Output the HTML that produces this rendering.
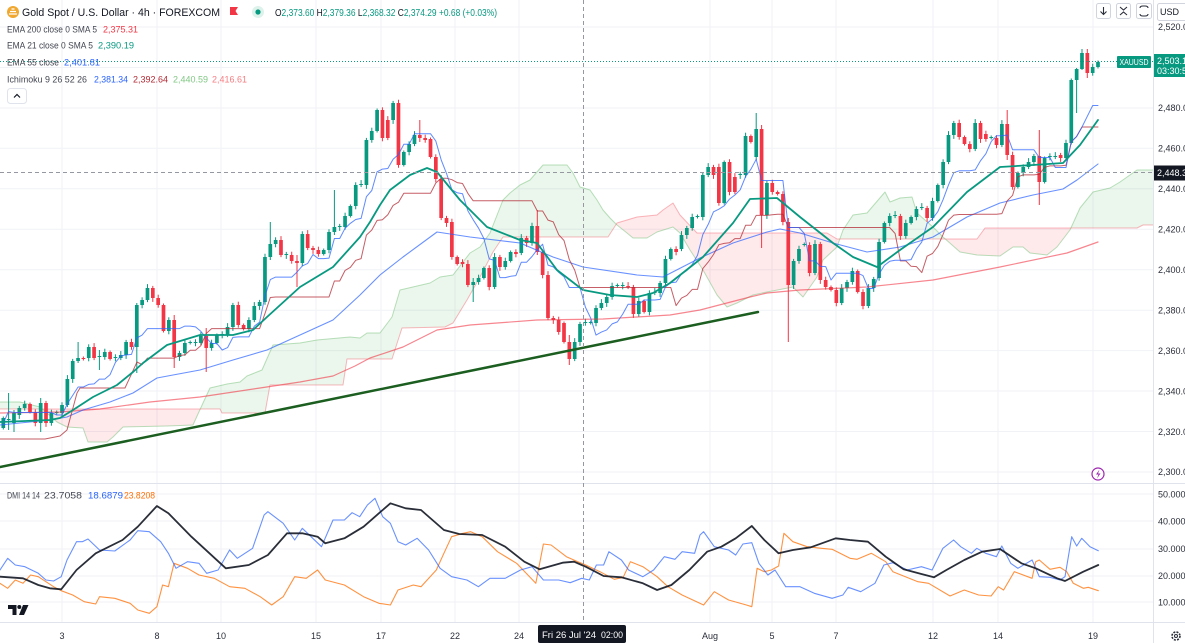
<!DOCTYPE html>
<html><head><meta charset="utf-8">
<style>
html,body{margin:0;padding:0;background:#fff;width:1185px;height:643px;overflow:hidden}
svg{display:block}
text{font-family:"Liberation Sans",sans-serif}
</style></head><body>
<svg id="svg" width="1185" height="643" viewBox="0 0 1185 643" xmlns="http://www.w3.org/2000/svg">
<defs id="defs">
<clipPath id="mainclip"><rect x="0" y="0" width="1153" height="483"/></clipPath>
<clipPath id="dmiclip"><rect x="0" y="484" width="1153" height="138"/></clipPath>
</defs>
<rect x="0" y="0" width="1185" height="643" fill="#fff"/>
<g id="grid" stroke="#f0f2f6" stroke-width="1"></g>
<g id="cloud" clip-path="url(#mainclip)"></g>
<g id="candles" clip-path="url(#mainclip)"></g>
<g id="lines" clip-path="url(#mainclip)"></g>
<g id="dmi" clip-path="url(#dmiclip)"></g>
<!-- separators -->
<line x1="0" y1="483.5" x2="1185" y2="483.5" stroke="#e0e3eb" stroke-width="1"/>
<line x1="0" y1="622.5" x2="1185" y2="622.5" stroke="#e0e3eb" stroke-width="1"/>
<line x1="1153.5" y1="0" x2="1153.5" y2="643" stroke="#e0e3eb" stroke-width="1"/>
<!-- trend line -->
<line x1="0" y1="467" x2="758" y2="312" stroke="#1b5e20" stroke-width="2.5" stroke-linecap="round"/>
<!-- dashed lines -->
<line x1="0" y1="172.5" x2="1153" y2="172.5" stroke="#9598a1" stroke-width="1" stroke-dasharray="4,3"/>
<line x1="583.5" y1="0" x2="583.5" y2="622" stroke="#9598a1" stroke-width="1" stroke-dasharray="4,3"/>
<line x1="0" y1="61.5" x2="1153" y2="61.5" stroke="#089981" stroke-width="1" stroke-dasharray="1,2"/>

<!-- price axis labels -->
<g font-size="9" fill="#2a2e39">
<text x="1158" y="30">2,520.00</text>
<text x="1158" y="111">2,480.00</text>
<text x="1158" y="151.5">2,460.00</text>
<text x="1158" y="192">2,440.00</text>
<text x="1158" y="232.5">2,420.00</text>
<text x="1158" y="273">2,400.00</text>
<text x="1158" y="313.5">2,380.00</text>
<text x="1158" y="354">2,360.00</text>
<text x="1158" y="394.5">2,340.00</text>
<text x="1158" y="435">2,320.00</text>
<text x="1158" y="475">2,300.00</text>
<text x="1158" y="497.5">50.0000</text>
<text x="1158" y="524.5">40.0000</text>
<text x="1158" y="552">30.0000</text>
<text x="1158" y="579">20.0000</text>
<text x="1158" y="605.5">10.0000</text>
</g>
<!-- price box -->
<rect x="1154" y="54" width="32" height="23" fill="#089981"/>
<text x="1157" y="64" font-size="9" fill="#fff">2,503.19</text>
<text x="1157" y="74" font-size="9" fill="#fff">03:30:51</text>
<rect x="1117" y="56" width="34" height="12" rx="1" fill="#089981"/>
<text x="1119.5" y="65" font-size="8.5" fill="#fff" textLength="29" lengthAdjust="spacingAndGlyphs">XAUUSD</text>
<rect x="1154" y="165.5" width="32" height="15" fill="#131722"/>
<text x="1157" y="176" font-size="9" fill="#fff">2,448.30</text>

<!-- top right buttons -->
<g fill="#fff" stroke="#d1d4dc" stroke-width="1">
<rect x="1096.5" y="3.5" width="14" height="15" rx="2"/>
<rect x="1116.5" y="3.5" width="14" height="15" rx="2"/>
<rect x="1136.5" y="3.5" width="15" height="15" rx="2"/>
<rect x="1157.5" y="3.5" width="30" height="17" rx="2"/>
</g>
<g stroke="#2a2e39" stroke-width="1.1" fill="none">
<path d="M1103.5,7 v7 M1100.5,11.5 l3,3 l3,-3"/>
<path d="M1120,7 l3.5,3 l3.5,-3 M1120,15 l3.5,-3 l3.5,3"/>
<path d="M1140,8 q0,-2 3,-2 h2 q3,0 3,2 M1140,14 q0,2 3,2 h2 q3,0 3,-2"/>
</g>
<text x="1160" y="15" font-size="9" fill="#131722">USD</text>

<!-- lightning -->
<circle cx="1098" cy="474" r="6" fill="#fff" stroke="#9c27b0" stroke-width="1.2"/>
<path d="M1099.5,469.5 l-3.5,5 h2.5 l-1.5,4 l3.5,-5 h-2.5 z" fill="#9c27b0"/>

<!-- legend -->
<circle cx="13" cy="12" r="6" fill="#f0a830"/>
<path d="M9,14 h8 M10,11.5 h6 M11.5,9 h3" stroke="#fff" stroke-width="1.3"/>
<text x="22" y="16" font-size="11" fill="#131722" textLength="198" lengthAdjust="spacingAndGlyphs">Gold Spot / U.S. Dollar · 4h · FOREXCOM</text>
<path d="M230,7 h8 l-2.5,4 l2.5,4 h-8 z" fill="#f23645"/>
<circle cx="258" cy="12" r="6" fill="#dcf2ea"/>
<circle cx="258" cy="12" r="2.6" fill="#089981"/>
<text x="275" y="16" font-size="10.5" textLength="222" lengthAdjust="spacingAndGlyphs"><tspan fill="#131722">O</tspan><tspan fill="#089981">2,373.60 </tspan><tspan fill="#131722">H</tspan><tspan fill="#089981">2,379.36 </tspan><tspan fill="#131722">L</tspan><tspan fill="#089981">2,368.32 </tspan><tspan fill="#131722">C</tspan><tspan fill="#089981">2,374.29 +0.68 (+0.03%)</tspan></text>

<g font-size="9.5">
<text x="7" y="32.5" fill="#434651" textLength="90" lengthAdjust="spacingAndGlyphs">EMA 200 close 0 SMA 5</text>
<text x="103" y="32.5" fill="#f23645" textLength="35" lengthAdjust="spacingAndGlyphs">2,375.31</text>
<text x="7" y="48.5" fill="#434651" textLength="86" lengthAdjust="spacingAndGlyphs">EMA 21 close 0 SMA 5</text>
<text x="98" y="48.5" fill="#089981" textLength="36" lengthAdjust="spacingAndGlyphs">2,390.19</text>
<text x="7" y="65.5" fill="#434651" textLength="52" lengthAdjust="spacingAndGlyphs">EMA 55 close</text>
<text x="64" y="65.5" fill="#2962ff" textLength="36" lengthAdjust="spacingAndGlyphs">2,401.81</text>
<text x="7" y="82.5" fill="#434651" textLength="80" lengthAdjust="spacingAndGlyphs">Ichimoku 9 26 52 26</text>
<text x="94" y="82.5" fill="#2962ff" textLength="34" lengthAdjust="spacingAndGlyphs">2,381.34</text>
<text x="133" y="82.5" fill="#b22833" textLength="35" lengthAdjust="spacingAndGlyphs">2,392.64</text>
<text x="173" y="82.5" fill="#81c784" textLength="35" lengthAdjust="spacingAndGlyphs">2,440.59</text>
<text x="212" y="82.5" fill="#f77c80" textLength="35" lengthAdjust="spacingAndGlyphs">2,416.61</text>
<text x="7" y="498.5" fill="#434651" textLength="33" lengthAdjust="spacingAndGlyphs">DMI 14 14</text>
<text x="44" y="498.5" fill="#434651" textLength="38" lengthAdjust="spacingAndGlyphs">23.7058</text>
<text x="88" y="498.5" fill="#2962ff" textLength="35" lengthAdjust="spacingAndGlyphs">18.6879</text>
<text x="124" y="498.5" fill="#ff6d00" textLength="31" lengthAdjust="spacingAndGlyphs">23.8208</text>
</g>
<rect x="7.5" y="88.5" width="19" height="15" rx="3" fill="#fff" stroke="#e0e3eb"/>
<path d="M14,97.5 l3,-3 l3,3" stroke="#131722" stroke-width="1.2" fill="none"/>

<!-- TV logo -->
<path d="M8,605 h8.5 v10 h-4 v-6 h-4.5 z" fill="#131722"/>
<circle cx="19.3" cy="607" r="2" fill="#131722"/>
<path d="M23,605 h5.5 l-4.5,10 h-5 z" fill="#131722"/>

<!-- time axis -->
<g font-size="9" fill="#2a2e39" text-anchor="middle">
<text x="62" y="639">3</text>
<text x="157" y="639">8</text>
<text x="221" y="639">10</text>
<text x="316" y="639">15</text>
<text x="381" y="639">17</text>
<text x="455" y="639">22</text>
<text x="519" y="639">24</text>
<text x="710" y="639">Aug</text>
<text x="772" y="639">5</text>
<text x="836" y="639">7</text>
<text x="933" y="639">12</text>
<text x="998" y="639">14</text>
<text x="1093" y="639">19</text>
</g>
<rect x="538" y="625" width="88" height="18" rx="2" fill="#131722"/>
<text x="542" y="638" font-size="9" fill="#fff" textLength="54" lengthAdjust="spacingAndGlyphs">Fri 26 Jul '24</text>
<text x="601" y="638" font-size="9" fill="#fff" textLength="22" lengthAdjust="spacingAndGlyphs">02:00</text>
<!-- gear -->
<circle cx="1176" cy="636" r="4" fill="none" stroke="#2a2e39" stroke-width="1.6" stroke-dasharray="2,1.2"/>
<circle cx="1176" cy="636" r="1.5" fill="none" stroke="#2a2e39" stroke-width="1"/>
</svg>
<script>
(function(){
const NS='http://www.w3.org/2000/svg';
function mk(tag,at,par){const e=document.createElementNS(NS,tag);for(const k in at)e.setAttribute(k,at[k]);par.appendChild(e);return e;}
const G=id=>document.getElementById(id);
const P=a=>a.map(p=>(+p[0]).toFixed(1)+','+(+p[1]).toFixed(1)).join(' ');
function line(par,pts,col,w,op){mk('polyline',{points:P(pts),fill:'none',stroke:col,'stroke-width':w,'stroke-opacity':op||1,'stroke-linejoin':'round','stroke-linecap':'round'},par);}

// grid
const grid=G('grid');
[27,67.5,108,148.3,188.8,229.2,269.7,310.2,350.6,391,431.5,472].forEach(y=>mk('line',{x1:0,y1:y,x2:1153,y2:y},grid));
[494,521,549,576,602].forEach(y=>mk('line',{x1:0,y1:y,x2:1153,y2:y},grid));
[62,157,221,316,381,455,519,710,772,836,933,998,1093].forEach(x=>mk('line',{x1:x,y1:0,x2:x,y2:622},grid));

// cloud
const A=[[0,402],[20,402],[40,407],[57,422],[67,427],[83,428],[88,442],[107,442],[113,437],[123,427],[167,426],[193,425],[203,403],[210,388],[227,384],[240,382],[247,376],[262,370],[273,345],[300,343],[317,340],[350,337],[360,338],[367,333],[380,333],[392,317],[400,290],[430,283],[440,277],[453,275],[470,253],[480,247],[490,233],[503,200],[510,193],[520,185],[530,180],[543,165],[567,165],[573,173],[580,187],[590,190],[597,200],[603,210],[610,218],[617,225],[627,233],[633,238],[647,238],[657,232],[673,227],[680,233],[690,250],[703,270],[717,295],[727,307],[737,303],[753,295],[767,292],[793,287],[803,297],[817,277],[823,260],[837,247],[843,230],[853,215],[867,213],[885,192],[890,202],[900,198],[912,197],[917,213],[933,227],[943,237],[960,252],[977,255],[1000,256],[1013,247],[1023,247],[1030,253],[1047,255],[1057,247],[1070,230],[1080,208],[1093,192],[1110,188],[1120,182],[1137,170],[1153,170]];
const B=[[0,409],[220,409],[222,413],[265,413],[270,385],[343,385],[347,359],[392,359],[402,328],[445,327],[453,323],[467,300],[480,277],[493,252],[503,237],[608,237],[617,223],[637,217],[657,215],[663,210],[673,203],[680,215],[697,233],[827,233],[837,239],[977,239],[985,228],[1137,228],[1143,225],[1153,225]];
const defs=G('defs');
const cpA=mk('clipPath',{id:'aboveA'},defs);mk('path',{d:'M0,0 L'+P(A)+' L1153,0 Z'},cpA);
const cpB=mk('clipPath',{id:'aboveB'},defs);mk('path',{d:'M0,0 L'+P(B)+' L1153,0 Z'},cpB);
const cl=G('cloud');
const gA=mk('g',{'clip-path':'url(#aboveB)'},cl);
mk('path',{d:'M0,483 L'+P(A)+' L1153,483 Z',fill:'#4caf50','fill-opacity':0.11},gA);
const gB=mk('g',{'clip-path':'url(#aboveA)'},cl);
mk('path',{d:'M0,483 L'+P(B)+' L1153,483 Z',fill:'#f23645','fill-opacity':0.11},gB);
line(cl,A,'#66bb6a',1,0.45);
line(cl,B,'#f23645',1,0.35);

// candles [open, close, high?, low?] in screen y
const C=[[428,418],[420,419,393,430],[423,413,410,432],[415,408],[408,404],[404,412],[412,423],[423,403,398,432],[403,423],[423,413],
[413,412],[413,405],[405,379],[379,361],[361,358,342,363],[358,359],[358,347],[347,358],[357,356,350,370],[357,352],
[352,359],[358,357],[358,355],[355,342],[342,347],[347,305,303,373],[305,300],[300,288],[288,298],[298,305],
[305,331],[331,320],[320,357,315,368],[357,353],[353,343],[343,342],[343,342],[343,336],[336,348,328,372],[348,343],
[343,335],[335,334],[335,327],[327,305],[305,325],[325,329],[329,320],[320,306],[306,302],[302,257],
[257,244,222,260],[244,240],[240,255],[255,254],[255,261],[261,263,255,287],[263,234],[234,248],[248,250],[250,254],
[254,250],[250,232],[232,227,190,235],[227,226],[227,216],[216,206],[206,185],[185,184],[185,140],[140,131],
[131,110],[110,138],[120,138],[120,103],[103,165],[165,152],[152,144],[144,135],[135,138,120,142],[138,140],
[139,157],[157,179],[179,218],[218,223],[222,257],[257,264],[262,264],[264,285],[285,282,278,302],[282,278],
[278,268],[268,287],[287,257],[257,267],[267,261],[261,252],[252,254],[253,238],[238,243],[243,226],
[226,252,210,255],[252,275],[275,318],[318,320],[320,332],[323,342],[342,359,335,365],[359,342],[342,324],[323,322],
[323,322],[323,308],[308,303],[303,297],[297,286],[286,285],[286,285],[286,287],[287,314],[314,301],
[301,312],[312,293],[293,292],[293,283],[283,259],[259,249],[249,252],[249,235],[235,228],[228,217],
[217,216],[217,175],[175,167],[167,175],[167,203],[203,162],[162,192],[177,192],[175,174],[175,136],
[136,142],[157,129,113,160],[129,215,125,248],[215,183],[183,192],[192,194],[194,222],[222,285,218,342],[285,261],[261,249],
[245,244],[245,273],[273,244],[244,280],[280,287],[287,290],[290,303],[303,288],[288,282],[282,271],
[271,292],[292,306],[306,288],[288,279],[278,242],[242,223],[223,216],[216,215],[216,236],[236,223],
[223,217],[217,209],[208,207],[208,218],[218,201],[201,185],[185,162],[162,135],[135,123],[123,137],
[137,144],[144,149],[149,123],[123,139],[134,139],[138,137],[138,145],[145,124],[124,155,110,160],[155,187],
[187,173],[173,167],[167,162],[162,156],[156,182,130,205],[182,158],[157,156],[157,156],[155,158],[158,143],
[143,80],[80,69,68,113],[69,53,49,70],[53,73,49,78],[73,67],[67,62]];
const N=C.length,X0=3.3,DX=(1098-3.3)/(N-1);
const cx=i=>X0+i*DX;
const H=[],L=[];
C.forEach((c,i)=>{const t=Math.min(c[0],c[1]),b=Math.max(c[0],c[1]);
H.push(c.length>2?Math.min(c[2],t):t-1.5-((i*37)%5)*0.6);
L.push(c.length>3?Math.max(c[3],b):b+1.5+((i*53)%5)*0.6);});
const cg=G('candles');
C.forEach((c,i)=>{const x=cx(i);const up=c[1]<=c[0];const col=up?'#089981':'#f23645';
const t=Math.min(c[0],c[1]),b=Math.max(c[0],c[1]);
mk('line',{x1:x.toFixed(1),y1:H[i],x2:x.toFixed(1),y2:L[i],stroke:col,'stroke-width':1},cg);
mk('rect',{x:(x-1.85).toFixed(2),y:t,width:3.7,height:Math.max(1,b-t),fill:col},cg);});

// ichimoku tenkan/kijun
function mid(i,n){let h=1e9,l=-1e9;for(let j=Math.max(0,i-n+1);j<=i;j++){h=Math.min(h,H[j]);l=Math.max(l,L[j]);}return (h+l)/2;}
const ten=C.map((c,i)=>[cx(i),mid(i,9)]);
const kij=[[0,439],[45,439],[60,436],[67,430],[77,393],[80,388],[125,388],[137,362]];
for(let i=26;i<N;i++)kij.push([cx(i),mid(i,26)]);

const lg=G('lines');
const E200=[[0,413],[60,412],[100,409],[150,402],[200,397],[260,388],[300,382],[333,376],[355,366],[370,358],[403,347],[437,330],[470,325],[537,320],[603,319],[670,315],[700,310],[750,297],[767,293],[800,290],[867,287],[933,280],[1000,267],[1067,253],[1098,242]];
const E55=[[0,425],[50,420],[67,417],[83,410],[110,402],[133,393],[157,378],[173,375],[200,370],[233,360],[267,350],[300,335],[333,320],[360,295],[380,275],[403,257],[437,232],[470,237],[520,243],[553,257],[583,267],[637,275],[663,277],[700,258],[733,243],[767,232],[780,229],[800,233],[833,243],[867,252],[900,247],[933,237],[967,217],[1000,203],[1033,195],[1063,189],[1077,180],[1098,164]];
const E21=[[0,422],[50,420],[60,418],[73,410],[93,397],[117,385],[133,372],[143,363],[167,345],[200,335],[233,335],[253,330],[267,317],[300,287],[333,267],[360,237],[370,222],[380,205],[390,190],[410,175],[427,168],[437,172],[460,200],[487,227],[520,240],[537,243],[557,270],[583,290],[610,295],[637,297],[653,293],[670,283],[703,257],[733,223],[750,199],[777,198],[800,217],[833,243],[853,257],[877,267],[900,250],[933,227],[967,192],[1000,167],[1033,165],[1063,163],[1080,145],[1098,120]];
line(lg,E200,'#f23645',1.2,0.6);
line(lg,E55,'#2962ff',1.1,0.7);
line(lg,kij,'#b22833',1,0.75);
line(lg,ten,'#2962ff',1,0.75);
line(lg,E21,'#089981',1.8,1);

// DMI
const z3=a=>a.map(p=>[p[0]/2.613,470+p[1]/3]);
const z6=a=>a.map(p=>[500+p[0]/2.8,470+p[1]/3]);
const z5=a=>a.map(p=>[1040+p[0]/3,470+p[1]/3]);
const adx=z3([[0,320],[60,325],[100,345],[130,355],[160,358],[200,300],[250,250],[320,210],[360,170],[410,108],[440,130],[500,200],[590,295],[650,285],[700,255],[750,190],[790,190],[830,200],[850,220],[900,205],[950,170],[1000,120],[1020,100],[1060,115],[1100,120],[1160,180],[1200,192],[1260,195],[1320,230],[1370,275],[1410,298],[1470,278],[1500,275],[1520,285]])
.concat(z6([[240,290],[290,318],[340,322],[400,340],[440,360],[480,345],[530,300],[580,245],[620,230],[660,205],[705,168],[740,210],[780,250],[820,240],[870,232],[940,205],[980,210],[1030,215],[1080,260],[1130,298],[1180,312],[1215,322],[1250,300],[1300,270],[1350,245],[1400,237],[1460,280],[1500,295],[1560,325]]))
.concat(z5([[75,333],[130,305],[175,285]]));
const pdi=z3([[0,300],[20,265],[40,285],[65,290],[100,310],[120,330],[140,333],[160,320],[175,270],[200,215],[215,215],[230,207],[260,240],[300,243],[340,210],[360,182],[390,185],[420,215],[440,250],[460,295],[490,275],[520,280],[540,310],[570,300],[600,240],[620,265],[660,235],[690,135],[700,125],[740,160],[770,210],[790,175],[840,230],[870,150],[900,150],[920,128],[940,140],[960,105],[980,85],[1000,140],[1020,160],[1040,215],[1060,225],[1090,205],[1120,240],[1150,295],[1180,320],[1220,330],[1250,350],[1280,325],[1320,325],[1360,300],[1390,290],[1420,330],[1460,330],[1490,338],[1520,325]])
.concat(z6([[250,330],[270,285],[290,285],[305,245],[340,270],[360,300],[400,320],[430,300],[460,260],[490,268],[510,245],[545,250],[560,195],[570,185],[600,230],[640,240],[660,255],[680,222],[705,218],[725,280],[750,315],[770,300],[800,350],[840,350],[880,370],[930,385],[960,375],[975,352],[1010,365],[1050,340],[1075,285],[1100,278],[1140,300],[1180,290],[1210,300],[1240,235],[1270,210],[1290,230],[1320,250],[1335,235],[1360,250],[1390,260],[1405,228],[1430,280],[1450,295],[1490,270],[1510,320],[1540,322],[1568,330]]))
.concat(z5([[75,320],[95,200],[110,228],[125,205],[150,230],[175,242]]));
const mdi=z3([[0,340],[20,355],[40,330],[60,340],[80,315],[100,320],[140,350],[160,362],[190,375],[220,395],[250,402],[260,380],[300,385],[340,400],[360,420],[390,430],[410,410],[425,345],[440,350],[455,280],[490,295],[520,315],[560,325],[600,350],[640,355],[680,380],[710,405],[740,380],[770,320],[800,325],[830,300],[850,330],[900,345],[950,380],[990,400],[1020,405],[1040,360],[1080,345],[1100,350],[1140,300],[1160,250],[1180,200],[1210,190],[1230,185],[1260,200],[1300,245],[1350,280],[1400,340],[1420,222],[1440,225],[1480,260],[1510,275]])
.concat(z6([[240,285],[280,305],[320,328],[345,322],[365,275],[400,290],[440,320],[470,350],[510,375],[570,405],[600,365],[640,390],[690,405],[705,410],[720,295],[740,305],[760,300],[780,288],[795,190],[820,215],[860,230],[900,235],[930,238],[980,265],[1000,268],[1040,250],[1080,275],[1100,305],[1170,335],[1200,340],[1260,378],[1300,360],[1340,375],[1375,378],[1395,350],[1410,360],[1440,305],[1490,325],[1500,275],[1510,270],[1540,298],[1568,292]]))
.concat(z5([[80,305],[100,340],[130,355],[145,352],[175,362]]));
const dg=G('dmi');
line(dg,mdi,'#ff6d00',1.1,0.75);
line(dg,pdi,'#2962ff',1.1,0.7);
line(dg,adx,'#131722',1.8,0.9);
})();
</script>
</body></html>
